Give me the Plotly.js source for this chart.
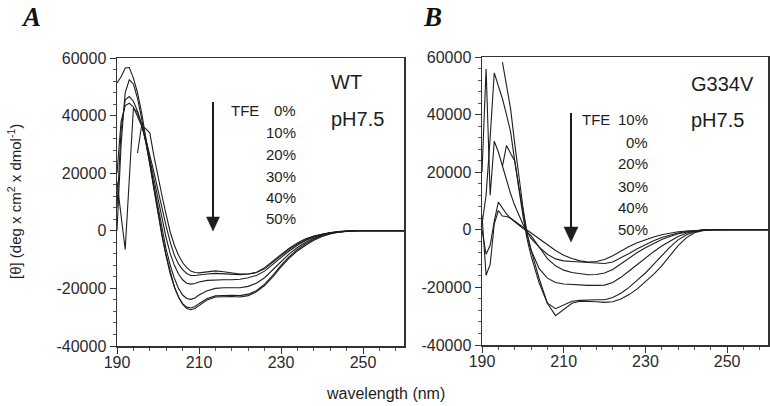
<!DOCTYPE html>
<html><head><meta charset="utf-8">
<script src="https://cdn.plot.ly/plotly-3.0.1.min.js"></script>
<style>html,body{margin:0;padding:0;background:#fff}#plot{width:770px;height:406px}</style>
</head><body><div id="plot"></div>
<script>
// ---------- DATA ----------
const wlA = [190,191,192,193,194,195,196,197,198,199,200,201,202,203,204,205,206,207,208,209,210,
  212,214,216,218,220,222,224,226,228,230,232,234,236,238,240,242,244,246,248,250,255,260];
// Panel A (WT, pH7.5) – TFE series
const wt0  = [null,null,null,null,null,27000,36500,35500,34000,26000,18500,12000,5500,-500,-5000,-8500,-11000,-12800,-14000,-14500,-14600,
  -14300,-13900,-14200,-14600,-15000,-15000,-14500,-12800,-10500,-8000,-6000,-4200,-2800,-1800,-1100,-600,-300,-100,0,0,0,0];
const wt10 = [20000,38000,43500,44300,43000,40000,36500,32000,26500,20500,14000,7500,1500,-4000,-8500,-11500,-13500,-14800,-15500,-15500,-15300,
  -15000,-14800,-15000,-15200,-15200,-15000,-14500,-13200,-11000,-8600,-6400,-4600,-3100,-2000,-1200,-700,-300,-100,0,0,0,0];
const wt20 = [8000,35000,45500,46600,45000,41500,37000,31500,25000,18000,11000,4000,-2500,-8000,-12000,-15000,-17000,-18200,-18500,-18300,-17800,
  -17200,-17000,-17000,-17000,-16800,-16300,-15500,-14000,-11800,-9300,-7000,-5000,-3400,-2200,-1300,-700,-300,-100,0,0,0,0];
const wt30 = [17000,5000,-6500,18000,42600,41000,37000,31000,23500,15500,7500,0,-6500,-12000,-16500,-20000,-22300,-23500,-23800,-23300,-22300,
  -20800,-20000,-19800,-19800,-19800,-19300,-18200,-16300,-13600,-10700,-8000,-5800,-4000,-2600,-1500,-800,-400,-100,0,0,0,0];
const wt40 = [0,30000,48000,52400,51000,46000,39000,31500,23000,14500,6000,-2000,-9000,-15000,-19500,-23000,-25300,-26500,-26800,-26300,-25300,
  -23500,-22600,-22400,-22400,-22500,-22000,-20800,-18500,-15500,-12000,-9000,-6500,-4500,-2900,-1700,-900,-400,-100,0,0,0,0];
const wt50 = [51300,53500,56500,56700,53000,48000,41000,33000,24000,15000,6500,-1500,-8500,-14500,-19500,-23000,-25500,-27000,-27400,-27000,-26000,
  -24000,-23000,-22800,-22800,-23000,-22500,-21200,-19000,-16000,-12500,-9500,-7000,-5000,-3300,-2000,-1100,-500,-200,0,0,0,0];

const wlB = [190,191,192,193,194,195,196,197,198,199,200,201,
  202,204,206,208,210,212,214,216,218,220,222,224,226,228,230,232,234,236,238,240,242,244,246,248,250,255,260];
// Panel B (G334V, pH7.5) – TFE series
const mt10 = [0,-8500,-5400,3000,9600,7500,5500,4000,3000,2000,1000,0,
  -1000,-3000,-5200,-7200,-8800,-10000,-10800,-11200,-11000,-10300,-9000,-7300,-5800,-4500,-3400,-2500,-1700,-1100,-700,-400,-200,-100,0,0,0,0,0];
const mt0  = [5000,-15800,-12000,2000,6700,4800,4600,4000,2800,1500,500,-500,
  -3000,-6000,-8500,-10100,-10800,-11000,-11200,-11400,-11600,-11700,-11200,-9800,-8200,-6600,-5100,-3800,-2700,-1800,-1100,-600,-300,-100,0,0,0,0,0];
const mt20 = [20000,55900,12000,30800,27000,22000,17000,12500,8500,5000,2000,-800,
  -2000,-6000,-10000,-12500,-14000,-14800,-15300,-15600,-15500,-15000,-13800,-11800,-9800,-7900,-6200,-4700,-3400,-2300,-1400,-800,-400,-100,0,0,0,0,0];
const mt30 = [null,null,null,null,null,22000,29300,26500,24000,15000,6000,-1500,
  -7000,-13500,-16800,-18300,-18800,-19000,-19200,-19300,-19300,-19200,-18300,-16500,-14300,-12000,-9800,-7600,-5600,-3800,-2300,-1200,-500,-100,0,0,0,0,0];
const mt40 = [2000,12000,32000,54500,50000,45500,40000,34000,24000,14000,5000,-3000,
  -9000,-18500,-25500,-27400,-26000,-24800,-24500,-24300,-24300,-24300,-23500,-22000,-20000,-17500,-15000,-12000,-9000,-6000,-3500,-1800,-700,-200,0,0,0,0,0];
const mt50 = [null,null,null,null,null,58200,50000,42000,30000,18000,8000,-1000,
  -7000,-17000,-25500,-29800,-27500,-25500,-24800,-24800,-25000,-25200,-25000,-24000,-22500,-20500,-18000,-15500,-12500,-9000,-5500,-2800,-1000,-300,0,0,0,0,0];

const xTicks = [190,210,230,250];
const yTickVals = [-40000,-20000,0,20000,40000,60000];
const yTickText = ['-40000','-20000','0','20000','40000','60000'];
const tfeA = ['0%','10%','20%','30%','40%','50%'];
const tfeB = ['10%','0%','20%','30%','40%','50%'];

// ---------- LAYOUT HELPERS ----------
const W = 770, H = 406;
const px = x => x / W;
const py = y => 1 - y / H;
const ink = '#1e1e1e';
const lineStyle = {color: ink, width: 1.1};

const traces = [];
[wt0, wt10, wt20, wt30, wt40, wt50].forEach((s, i) => traces.push({
  x: wlA, y: s, xaxis: 'x', yaxis: 'y', type: 'scatter', mode: 'lines',
  line: lineStyle, connectgaps: false, showlegend: false, hoverinfo: 'skip', name: 'WT ' + tfeA[i]
}));
[mt10, mt0, mt20, mt30, mt40, mt50].forEach((s, i) => traces.push({
  x: wlB, y: s, xaxis: 'x2', yaxis: 'y2', type: 'scatter', mode: 'lines',
  line: lineStyle, connectgaps: false, showlegend: false, hoverinfo: 'skip', name: 'G334V ' + tfeB[i]
}));

const tickFont = {family: 'Liberation Sans, Arial, sans-serif', size: 16, color: '#2a2a2a'};
function xAxis(domain, anchor) {
  return {domain, anchor, range: [190, 260], tickvals: xTicks, ticks: 'outside', ticklen: 6, tickwidth: 1,
    tickcolor: '#333', showline: true, linewidth: 1.5, linecolor: '#333', mirror: true,
    showgrid: false, zeroline: false, tickfont: tickFont, fixedrange: true, ticklabelstandoff: -5,
    minor: {tick0: 190, dtick: 4, ticks: 'outside', ticklen: 3, tickwidth: 1, tickcolor: '#555', showgrid: false}};
}
function yAxis(domain, anchor) {
  return {domain, anchor, range: [-40000, 60000], tickvals: yTickVals, ticktext: yTickText,
    ticks: 'outside', ticklen: 6, tickwidth: 1, tickcolor: '#333', showline: true, linewidth: 1.5,
    linecolor: '#333', mirror: true, showgrid: false, zeroline: false, tickfont: tickFont, fixedrange: true,
    minor: {tick0: -40000, dtick: 4000, ticks: 'outside', ticklen: 3, tickwidth: 1, tickcolor: '#555', showgrid: false}};
}

const sans = 'Liberation Sans, Arial, sans-serif';
const ann = [];
function txt(text, x, y, size, xanchor, extra) {
  ann.push(Object.assign({text, x: px(x), y: py(y), xref: 'paper', yref: 'paper', showarrow: false,
    xanchor: xanchor || 'left', yanchor: 'middle', font: {family: sans, size, color: '#1e1e1e'}}, extra || {}));
}
// Panel letters
txt('<b><i>A</i></b>', 31, 17, 27, 'center', {font: {family: 'Liberation Serif, Times New Roman, serif', size: 27, color: '#111'}});
txt('<b><i>B</i></b>', 432, 17, 27, 'center', {font: {family: 'Liberation Serif, Times New Roman, serif', size: 27, color: '#111'}});
// Panel A labels
txt('WT', 329, 82, 20);
txt('pH7.5', 329, 119, 20);
txt('TFE', 229, 110, 15);
const rowA = [110, 132, 154, 176, 197, 219];
tfeA.forEach((t, i) => txt(t, 298, rowA[i], 15, 'right'));
// Panel B labels
txt('G334V', 689, 84, 20);
txt('pH7.5', 689, 120, 20);
txt('TFE', 580, 119, 15);
const rowB = [119, 142, 164, 186, 207, 229];
tfeB.forEach((t, i) => txt(t, 650, rowB[i], 15, 'right'));
// Axis titles
txt('[θ] (deg x cm<sup>2</sup> x dmol<sup>-1</sup>)', 15, 202, 15, 'center', {textangle: -90});
txt('wavelength (nm)', 385, 393, 16, 'center');

// Arrows
const shapes = [];
function arrow(x, yTop, yBase, yTip, half) {
  shapes.push({type: 'line', xref: 'paper', yref: 'paper', x0: px(x), x1: px(x), y0: py(yTop), y1: py(yBase + 2),
    line: {color: ink, width: 2}});
  shapes.push({type: 'path', xref: 'paper', yref: 'paper',
    path: `M ${px(x - half)} ${py(yBase)} L ${px(x + half)} ${py(yBase)} L ${px(x)} ${py(yTip)} Z`,
    fillcolor: ink, line: {color: ink, width: 0.5}});
}
arrow(213, 102, 217, 231, 6.5);
arrow(571, 113, 227, 242, 7);

const layout = {
  width: W, height: H, margin: {l: 0, r: 0, t: 0, b: 0}, paper_bgcolor: '#fff', plot_bgcolor: '#fff',
  showlegend: false,
  xaxis: xAxis([px(117), px(404)], 'y'),
  yaxis: yAxis([py(346), py(58)], 'x'),
  xaxis2: xAxis([px(482), px(768)], 'y2'),
  yaxis2: yAxis([py(345), py(57)], 'x2'),
  annotations: ann, shapes
};
Plotly.newPlot('plot', traces, layout, {staticPlot: true, displayModeBar: false});
</script></body></html>
